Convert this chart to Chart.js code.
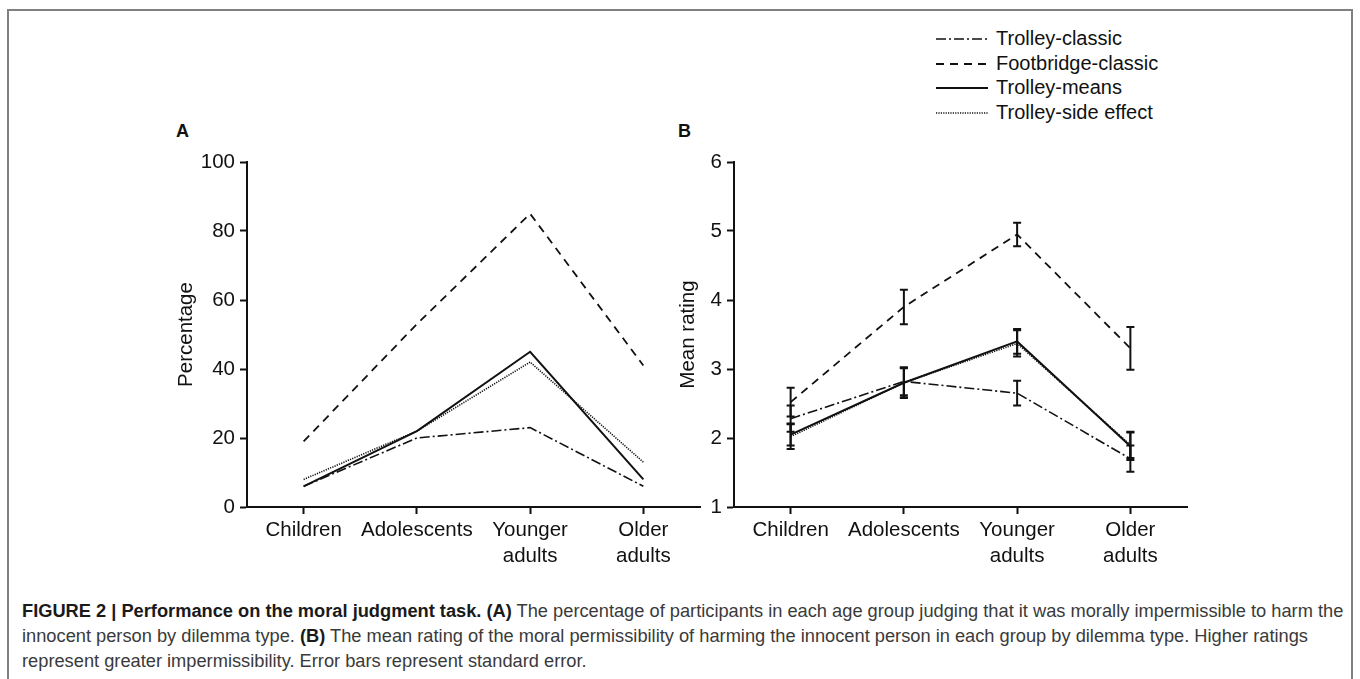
<!DOCTYPE html>
<html>
<head>
<meta charset="utf-8">
<script src="https://cdn.jsdelivr.net/npm/chart.js@4.4.1/dist/chart.umd.min.js"></script>
<style>
  html, body { margin: 0; padding: 0; background: #fff; }
  #fig { position: relative; width: 1360px; height: 679px; overflow: hidden; background: #fff;
         font-family: "Liberation Sans", Arial, sans-serif; color: #111; }
  #frame { position: absolute; left: 7px; top: 9px; width: 1346px; height: 700px;
           border: 2px solid #808080; border-bottom: none; box-sizing: border-box; }
  .panel { position: absolute; width: 560px; height: 437px; top: 140px; }
  .panel canvas { display: block; }
  .tag { position: absolute; font-weight: bold; font-size: 18px; line-height: 18px; }
  #legend { position: absolute; left: 935px; top: 26px; }
  .row { position: absolute; left: 0; height: 24px; white-space: nowrap; }
  .row svg { position: absolute; left: 0; top: 0; }
  .row span { position: absolute; left: 61px; top: 0; font-size: 20px; line-height: 24px; }
  #caption { position: absolute; left: 22px; top: 598px; font-size: 15px; line-height: 25px;
             color: #3a3a3a; white-space: nowrap; }
  #caption b { color: #1a1a1a; }
</style>
</head>
<body>
<div id="fig">
  <div id="frame"></div>
  <div class="tag" style="left:176px; top:122px;">A</div>
  <div class="tag" style="left:678px; top:122px;">B</div>
  <div id="legend"></div>
  <div class="panel" style="left:160px;"><canvas id="chartA" width="560" height="437"></canvas></div>
  <div class="panel" style="left:647px;"><canvas id="chartB" width="560" height="437"></canvas></div>
  <div id="caption">
    <span id="cap1"><b>FIGURE 2 | Performance on the moral judgment task. (A)</b> The percentage of participants in each age group judging that it was morally impermissible to harm the</span><br>
    <span>innocent person by dilemma type. <b>(B)</b> The mean rating of the moral permissibility of harming the innocent person in each group by dilemma type. Higher ratings</span><br>
    <span>represent greater impermissibility. Error bars represent standard error.</span>
  </div>
</div>
<script>
// Age groups on the x axis (multi-line tick labels)
const ageLabels = [['Children'], ['Adolescents'], ['Younger', 'adults'], ['Older', 'adults']];

// Dilemma types
const seriesNames = ['Trolley-classic', 'Footbridge-classic', 'Trolley-means', 'Trolley-side effect'];

// Panel A: percentage judging harm impermissible
const pctClassic    = [6, 20, 23, 6];
const pctFootbridge = [19, 53, 85, 41];
const pctMeans      = [6, 22, 45, 8];
const pctSide       = [8, 22, 42, 13];

// Panel B: mean rating and standard error
const ratingClassic    = [2.28, 2.82, 2.65, 1.70];
const ratingFootbridge = [2.52, 3.90, 4.95, 3.30];
const ratingMeans      = [2.05, 2.80, 3.40, 1.88];
const ratingSide       = [2.02, 2.80, 3.37, 1.90];
const seClassic    = [0.19, 0.20, 0.18, 0.19];
const seFootbridge = [0.21, 0.25, 0.17, 0.31];
const seMeans      = [0.16, 0.22, 0.18, 0.20];
const seSide       = [0.18, 0.21, 0.19, 0.19];

// Axis ticks
const pctTicks = [0, 20, 40, 60, 80, 100];
const ratingTicks = [1, 2, 3, 4, 5, 6];

// Line styles for each dilemma type
const lineStyles = [
  { dash: [10, 3, 2, 3], width: 1.6 },
  { dash: [8, 6], width: 1.8 },
  { dash: [], width: 2 },
  { dash: [1.2, 1.2], width: 1.6 }
];
const ink = '#111';
const fontFamily = '"Liberation Sans", Arial, sans-serif';
const labelSize = 20.5;

// HTML legend built from the series names and their line styles
(function buildLegend() {
  const box = document.getElementById('legend');
  seriesNames.forEach((name, i) => {
    const st = lineStyles[i];
    const row = document.createElement('div');
    row.className = 'row';
    row.style.top = (i * 24.7) + 'px';
    const dash = st.dash.length ? st.dash.join(' ') : 'none';
    row.innerHTML = '<svg width="56" height="24"><line x1="1" y1="13" x2="53" y2="13" stroke="' + ink +
      '" stroke-width="' + st.width + '" stroke-dasharray="' + dash + '"/></svg><span>' + name + '</span>';
    box.appendChild(row);
  });
})();

// Vertical standard-error bars with caps
const errorBars = {
  id: 'errorBars',
  afterDatasetsDraw(chart) {
    const { ctx, scales: { x, y } } = chart;
    chart.data.datasets.forEach(ds => {
      if (!ds.errors) return;
      ctx.save();
      ctx.strokeStyle = ink;
      ctx.lineWidth = 2;
      ctx.setLineDash([]);
      ds.data.forEach((v, j) => {
        const px = x.getPixelForValue(j);
        const top = y.getPixelForValue(v + ds.errors[j]);
        const bot = y.getPixelForValue(v - ds.errors[j]);
        ctx.beginPath();
        ctx.moveTo(px, top); ctx.lineTo(px, bot);
        ctx.moveTo(px - 4, top); ctx.lineTo(px + 4, top);
        ctx.moveTo(px - 4, bot); ctx.lineTo(px + 4, bot);
        ctx.stroke();
      });
      ctx.restore();
    });
  }
};

function makeDatasets(values, errors) {
  return values.map((vals, i) => ({
    label: seriesNames[i],
    data: vals,
    errors: errors ? errors[i] : null,
    borderColor: ink,
    borderWidth: lineStyles[i].width,
    borderDash: lineStyles[i].dash,
    pointRadius: 0,
    tension: 0,
    fill: false
  }));
}

function makeChart(id, datasets, ticks, title, titlePad) {
  return new Chart(document.getElementById(id), {
    type: 'line',
    data: { labels: ageLabels, datasets },
    plugins: [errorBars],
    options: {
      responsive: false,
      animation: false,
      layout: { padding: { left: 0, right: 20, top: 22, bottom: 0 } },
      plugins: { legend: { display: false }, tooltip: { enabled: false } },
      scales: {
        x: {
          type: 'category',
          offset: true,
          afterFit: s => { s.height = 70; },
          border: { display: true, color: ink, width: 2 },
          grid: { display: true, offset: false, drawOnChartArea: false, drawTicks: true,
                  tickLength: 7, tickColor: ink, tickWidth: 2, color: ink },
          ticks: { color: ink, padding: 3, maxRotation: 0, autoSkip: false,
                   font: { family: fontFamily, size: labelSize, lineHeight: 1.27 } }
        },
        y: {
          min: ticks[0],
          max: ticks[ticks.length - 1],
          afterFit: s => { s.width = 87; },
          afterBuildTicks: s => { s.ticks = ticks.map(v => ({ value: v })); },
          border: { display: true, color: ink, width: 2 },
          grid: { display: true, drawOnChartArea: false, drawTicks: true,
                  tickLength: 7, tickColor: ink, tickWidth: 2, color: ink },
          ticks: { color: ink, padding: 5, font: { family: fontFamily, size: labelSize } },
          title: { display: true, text: title, color: ink, padding: { top: titlePad, bottom: 0 },
                   font: { family: fontFamily, size: labelSize } }
        }
      }
    }
  });
}

makeChart('chartA', makeDatasets([pctClassic, pctFootbridge, pctMeans, pctSide]), pctTicks, 'Percentage', 14);
makeChart('chartB',
  makeDatasets([ratingClassic, ratingFootbridge, ratingMeans, ratingSide],
               [seClassic, seFootbridge, seMeans, seSide]),
  ratingTicks, 'Mean rating', 29);

// Fit the caption's first line to the figure width
(function fitCaption() {
  const cap = document.getElementById('caption');
  const first = document.getElementById('cap1');
  const target = 1322;
  const w = first.getBoundingClientRect().width;
  if (w > 0) cap.style.fontSize = (15 * target / w).toFixed(2) + 'px';
})();
</script>
</body>
</html>
